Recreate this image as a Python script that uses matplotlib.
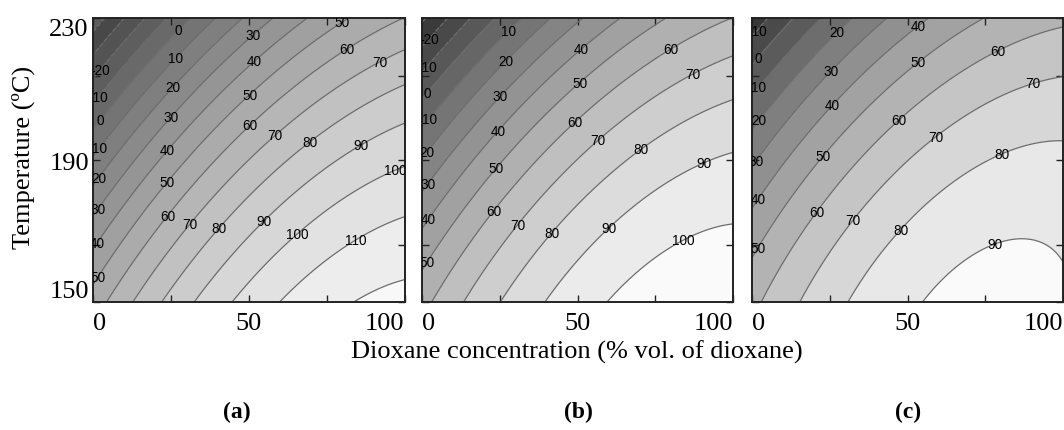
'''
Drei Konturdiagramme (a), (b), (c): Ausbeute ueber Dioxankonzentration und Temperatur.
Die Flaeche wird aus abgelesenen Konturpunkten als quadratisches Modell angepasst.
'''

import numpy as np
import matplotlib.pyplot as plt

plt.rcParams['font.family'] = ['Liberation Serif', 'DejaVu Serif']

a_lab_x = [27.2, 26.5, 25.6, 24.9, 23.6, 23.6, 23.6, 31.0, 40.3, 55.0, 65.8, 84.7,
           51.8, 51.8, 50.2, 50.5, 58.5, 69.6, 85.9, 97.0, 80.0, 81.5, 91.7,
           2, 2, 2, 2, 2, 2, 2, 2]
a_lab_t = [226.6, 218.7, 210.5, 202.3, 193.0, 184.0, 174.6, 172.3, 170.9, 172.6, 168.7, 167.2,
           224.9, 217.8, 208.5, 199.8, 197.0, 195.3, 194.4, 187.3, 228.8, 221.0, 217.9,
           215.4, 207.7, 201.5, 193.3, 184.8, 175.8, 166.4, 156.8]
a_lab_z = [0, 10, 20, 30, 40, 50, 60, 70, 80, 90, 100, 110,
           30, 40, 50, 60, 70, 80, 90, 100, 50, 60, 70,
           -20, -10, 0, 10, 20, 30, 40, 50]
# zusaetzliche Randschnittpunkte (unten / rechts)
a_edge_x = [3.2, 12.5, 21.4, 32.0, 45.0, 61.0, 85.0, 100, 100, 100]
a_edge_t = [150, 150, 150, 150, 150, 150, 150, 187.6, 175.4, 157.3]
a_edge_z = [60, 70, 80, 90, 100, 110, 120, 100, 110, 120]
a_levels = list(range(-40, 130, 10))

b_lab_x = [27.8, 27.0, 25.1, 24.3, 23.8, 23.0, 30.7, 41.7, 60.1, 83.8,
           51.3, 50.8, 49.2, 56.7, 70.6, 90.6, 80.2, 87.2,
           2, 2, 2, 2, 2, 2, 2, 2]
b_lab_t = [226.2, 218.0, 208.1, 198.3, 187.7, 175.8, 171.8, 169.7, 171.1, 167.8,
           221.3, 211.7, 200.7, 195.5, 192.9, 189.2, 221.0, 213.6,
           224.4, 216.1, 208.6, 201.9, 192.2, 183.3, 173.4, 161.3]
b_lab_z = [10, 20, 30, 40, 50, 60, 70, 80, 90, 100,
           40, 50, 60, 70, 80, 90, 60, 70,
           -20, -10, 0, 10, 20, 30, 40, 50]
b_edge_x = [3.7, 13.4, 25.1, 36.9, 63.0, 100, 100, 100, 100]
b_edge_t = [150, 150, 150, 150, 150, 172.6, 192.3, 207.0, 220.4]
b_edge_z = [60, 70, 80, 90, 100, 100, 90, 80, 70]
b_levels = list(range(-30, 110, 10))

c_lab_x = [27.3, 25.4, 26.0, 23.0, 20.6, 32.8, 47.6, 78.1,
           53.5, 53.5, 47.1, 59.2, 80.2, 79.1, 90.4,
           2, 2, 2, 2, 2, 2, 2]
c_lab_t = [226.2, 215.2, 205.5, 191.3, 175.5, 173.0, 170.6, 166.4,
           227.7, 217.5, 201.4, 196.2, 191.7, 220.8, 211.4,
           226.2, 218.9, 210.7, 201.4, 189.4, 179.1, 165.2]
c_lab_z = [20, 30, 40, 50, 60, 70, 80, 90,
           40, 50, 60, 70, 80, 60, 70,
           -10, 0, 10, 20, 30, 40, 50]
c_edge_x = [2.7, 15.5, 31.0, 55.0, 86.0, 100, 100, 100, 100]
c_edge_t = [150, 150, 150, 150, 168.0, 162.0, 195.5, 213.5, 227.6]
c_edge_z = [60, 70, 80, 90, 90, 90, 80, 70, 60]
c_levels = list(range(-20, 100, 10))

panel_names = ['(a)', '(b)', '(c)']


def design(x, t):
    u = np.asarray(x, float) / 100.0
    v = (np.asarray(t, float) - 190.0) / 40.0
    return np.stack([np.ones_like(u), u, v, u * u, v * v, u * v], axis=-1)


def fit_surface(xs, ts, zs):
    coef, *_ = np.linalg.lstsq(design(xs, ts), np.asarray(zs, float), rcond=None)
    return coef


panels = [
    (a_lab_x, a_lab_t, a_lab_z, a_edge_x, a_edge_t, a_edge_z, a_levels, (72, 248), 92),
    (b_lab_x, b_lab_t, b_lab_z, b_edge_x, b_edge_t, b_edge_z, b_levels, (58, 250), 80),
    (c_lab_x, c_lab_t, c_lab_z, c_edge_x, c_edge_t, c_edge_z, c_levels, (56, 250), 56),
]

fig = plt.figure(figsize=(10.64, 4.31), dpi=100)
ax_lefts = [93 / 1064, 421.7 / 1064, 751.7 / 1064]
ax_w = 311.6 / 1064
ax_b = 1 - 303.3 / 431
ax_h = 284.3 / 431

xg = np.linspace(0, 100, 301)
tg = np.linspace(150, 230, 241)
XX, TT = np.meshgrid(xg, tg)

for i, (lx, lt, lz, ex, et, ez, levels, (g0, g1), g_under) in enumerate(panels):
    ax = fig.add_axes([ax_lefts[i], ax_b, ax_w, ax_h])
    coef = fit_surface(lx + ex, lt + et, lz + ez)
    ZZ = design(XX, TT) @ coef

    n_bands = len(levels)
    greys = [g0 + (g1 - g0) * k / (n_bands - 1) for k in range(n_bands)]
    fill_cols = [(g_under / 255,) * 3] + [(g / 255,) * 3 for g in greys]
    bounds = [-1e4] + levels + [1e4]
    ax.contourf(XX, TT, ZZ, levels=bounds, colors=fill_cols)
    cs = ax.contour(XX, TT, ZZ, levels=levels, colors='#6c6c6c', linewidths=0.9)
    ax.set_xlim(0, 100)
    ax.set_ylim(150, 230)

    labels = ax.clabel(cs, manual=list(zip(lx, lt)), inline=False,
                       fontsize=9.8, colors='k', fmt='%d')
    for txt in labels:
        txt.set_rotation(0)
        txt.set_clip_on(True)
        txt.set_fontfamily('Liberation Sans')

    # Achsen
    ax.set_xticks([0, 25, 50, 75, 100])
    ax.set_xticklabels(['0', '', '50', '', '100'])
    xt = ax.get_xticklabels()
    xt[0].set_horizontalalignment('left')
    xt[-1].set_horizontalalignment('right')
    d = 40 / 1.682
    ax.set_yticks([150, 190 - d, 190, 190 + d, 230])
    if i == 0:
        ax.set_yticklabels(['150', '', '190', '', '230'])
        yt = ax.get_yticklabels()
        yt[0].set_verticalalignment('bottom')
        yt[-1].set_verticalalignment('top')
    else:
        ax.set_yticklabels([])
    ax.tick_params(direction='in', top=True, right=True, length=5, width=1,
                   labelsize=19, color='#222222')
    ax.tick_params(axis='x', pad=7)
    ax.tick_params(axis='y', pad=3)
    for sp in ax.spines.values():
        sp.set_linewidth(1.4)
        sp.set_color('#222222')

    fig.text([237, 578, 908][i] / 1064, 1 - 412 / 431, panel_names[i],
             ha='center', va='center', fontsize=17, fontweight='bold')

fig.text(23 / 1064, 1 - 157 / 431, 'Temperature (ºC)', rotation=90,
         ha='center', va='center', fontsize=19)
fig.text(577 / 1064, 1 - 352 / 431, 'Dioxane concentration (% vol. of dioxane)',
         ha='center', va='center', fontsize=19)

fig.savefig('out.png', dpi=100)
